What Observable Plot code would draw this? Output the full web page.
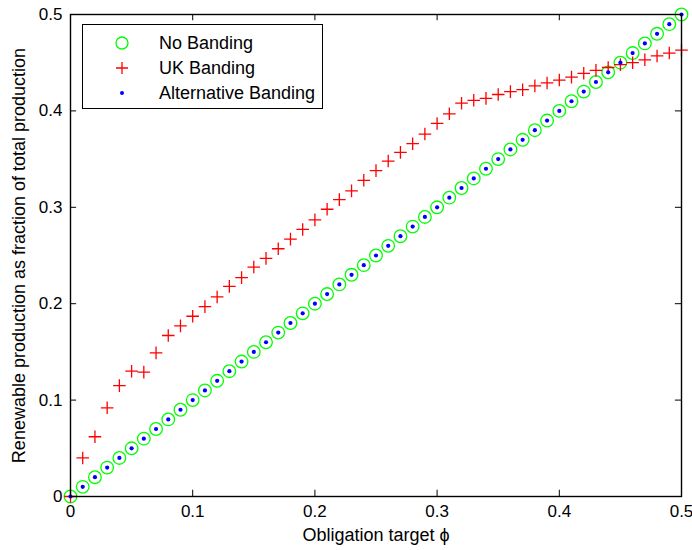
<!DOCTYPE html>
<html>
<head>
<meta charset="utf-8">
<script src="https://cdn.jsdelivr.net/npm/d3@7"></script>
<script src="https://cdn.jsdelivr.net/npm/@observablehq/plot@0.6"></script>
<style>
  body { margin: 0; background: white; }
  #wrap { position: relative; width: 692px; height: 550px; font-family: "Liberation Sans", Arial, sans-serif; }
  #legend { position: absolute; left: 82px; top: 24px; width: 241px; height: 85px; border: 1px solid black; background: white; box-sizing: border-box; }
  .item { position: absolute; left: 0; height: 20px; display: flex; align-items: center; font-size: 18px; color: black; white-space: nowrap; }
  .item svg { margin-left: 32px; margin-right: 30px; }
</style>
</head>
<body>
<div id="wrap"></div>
<script>
const phi = [0,0.01,0.02,0.03,0.04,0.05,0.06,0.07,0.08,0.09,0.10,0.11,0.12,0.13,0.14,0.15,0.16,0.17,0.18,0.19,0.20,0.21,0.22,0.23,0.24,0.25,0.26,0.27,0.28,0.29,0.30,0.31,0.32,0.33,0.34,0.35,0.36,0.37,0.38,0.39,0.40,0.41,0.42,0.43,0.44,0.45,0.46,0.47,0.48,0.49,0.50];
const noBanding = [0,0.01,0.02,0.03,0.04,0.05,0.06,0.07,0.08,0.09,0.10,0.11,0.12,0.13,0.14,0.15,0.16,0.17,0.18,0.19,0.20,0.21,0.22,0.23,0.24,0.25,0.26,0.27,0.28,0.29,0.30,0.31,0.32,0.33,0.34,0.35,0.36,0.37,0.38,0.39,0.40,0.41,0.42,0.43,0.44,0.45,0.46,0.47,0.48,0.49,0.50];
const ukBanding = [0,0.040,0.062,0.092,0.115,0.130,0.129,0.149,0.167,0.177,0.187,0.197,0.207,0.218,0.227,0.238,0.247,0.257,0.267,0.277,0.287,0.298,0.308,0.317,0.328,0.338,0.348,0.357,0.366,0.376,0.387,0.397,0.408,0.411,0.413,0.417,0.420,0.422,0.426,0.429,0.432,0.435,0.439,0.442,0.445,0.448,0.450,0.453,0.457,0.460,0.463];
const altBanding = [0,0.01,0.02,0.03,0.04,0.05,0.06,0.07,0.08,0.09,0.10,0.11,0.12,0.13,0.14,0.15,0.16,0.17,0.18,0.19,0.20,0.21,0.22,0.23,0.24,0.25,0.26,0.27,0.28,0.29,0.30,0.31,0.32,0.33,0.34,0.35,0.36,0.37,0.38,0.39,0.40,0.41,0.42,0.43,0.44,0.45,0.46,0.47,0.48,0.49,0.50];
const xTicks = [0,0.1,0.2,0.3,0.4,0.5];
const yTicks = [0,0.1,0.2,0.3,0.4,0.5];
const seriesNames = ["No Banding","UK Banding","Alternative Banding"];
const xLabel = "Obligation target ϕ";
const yLabel = "Renewable production as fraction of total production";

const rows = (ys) => phi.map((x, i) => ({x, y: ys[i]}));
const plusSymbol = {
  draw(ctx, size) {
    const r = Math.sqrt(size / Math.PI);
    ctx.moveTo(-r, 0); ctx.lineTo(r, 0);
    ctx.moveTo(0, -r); ctx.lineTo(0, r);
  }
};
const fmt = d => String(+d.toFixed(1));

const chart = Plot.plot({
  width: 692, height: 550,
  marginLeft: 70, marginRight: 11, marginTop: 14, marginBottom: 54,
  x: {domain: [0, 0.5]},
  y: {domain: [0, 0.5]},
  style: {fontFamily: "'Liberation Sans', Arial, sans-serif", fontSize: "17px", background: "white", color: "black"},
  marks: [
    Plot.dot(rows(noBanding), {x: "x", y: "y", r: 6.3, stroke: "#00ff00", strokeWidth: 1.3, fill: "none"}),
    Plot.dot(rows(ukBanding), {x: "x", y: "y", r: 6.3, symbol: plusSymbol, stroke: "#ff0000", strokeWidth: 1.3, fill: "none"}),
    Plot.dot(rows(altBanding), {x: "x", y: "y", r: 2.1, fill: "#0000ff", stroke: "none"}),
    Plot.ruleX(xTicks, {x: d => d, y1: 0, y2: 0.0065, stroke: "black"}),
    Plot.ruleX(xTicks, {x: d => d, y1: 0.5, y2: 0.4935, stroke: "black"}),
    Plot.ruleY(yTicks, {y: d => d, x1: 0, x2: 0.005, stroke: "black"}),
    Plot.ruleY(yTicks, {y: d => d, x1: 0.5, x2: 0.495, stroke: "black"}),
    Plot.frame({stroke: "black", strokeWidth: 1.4}),
    Plot.axisX(xTicks, {tickSize: 0, tickPadding: 8, tickFormat: fmt, label: null}),
    Plot.axisY(yTicks, {tickSize: 0, tickPadding: 8, tickFormat: fmt, label: null}),
    Plot.text([xLabel], {frameAnchor: "bottom", dy: 39, fontSize: 18, fill: "black", textAnchor: "middle", lineAnchor: "middle"}),
    Plot.text([yLabel], {frameAnchor: "left", dx: -51, rotate: -90, fontSize: 18, fill: "black", textAnchor: "middle", lineAnchor: "middle"})
  ]
});
const wrap = document.getElementById("wrap");
wrap.appendChild(chart);

// legend overlay (inside plot frame, like MATLAB)
const legend = document.createElement("div");
legend.id = "legend";
const markerSvgs = [
  '<svg width="14" height="14"><circle cx="7" cy="7" r="6" fill="none" stroke="#00ff00" stroke-width="1.3"/></svg>',
  '<svg width="14" height="14"><path d="M1,7H13M7,1V13" stroke="#ff0000" stroke-width="1.3"/></svg>',
  '<svg width="14" height="14"><circle cx="7" cy="7" r="2" fill="#0000ff"/></svg>'
];
const tops = [8, 33, 58];
seriesNames.forEach((name, i) => {
  const it = document.createElement("div");
  it.className = "item";
  it.style.top = tops[i] + "px";
  it.innerHTML = markerSvgs[i] + "<span>" + name + "</span>";
  legend.appendChild(it);
});
wrap.appendChild(legend);
</script>
</body>
</html>
